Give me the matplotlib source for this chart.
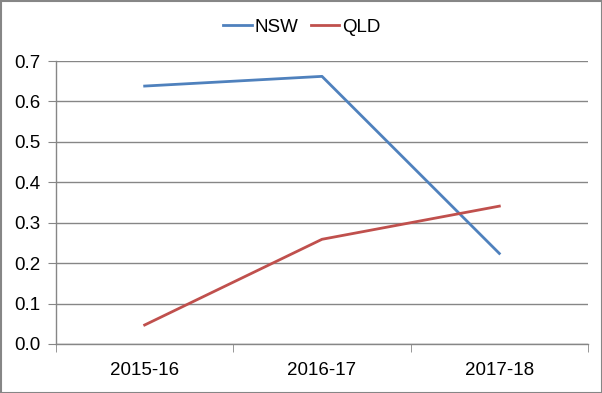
import numpy as np
import matplotlib.pyplot as plt
from matplotlib.patches import Rectangle

years = ["2015-16", "2016-17", "2017-18"]
nsw = [0.638, 0.662, 0.224]
qld = [0.047, 0.259, 0.341]

plt.rcParams['font.family'] = ['Liberation Sans', 'DejaVu Sans']

fig = plt.figure(figsize=(6.02, 3.93), dpi=100)
ax = fig.add_axes([56/602, 1-344/393, 532/602, 283/393])

x = np.arange(len(years))
ax.plot(x, nsw, color='#4F81BD', lw=2.0, label='NSW')
ax.plot(x, qld, color='#C0504D', lw=2.0, label='QLD')

ax.set_xlim(-0.5, 2.5)
ax.set_ylim(0, 0.7)
ax.set_yticks(np.arange(0, 0.71, 0.1))
ax.set_yticklabels(['%.1f' % v for v in np.arange(0, 0.71, 0.1)])
ax.set_xticks(x)
ax.set_xticklabels(years)
ax.set_xticks([-0.5, 0.5, 1.5, 2.5], minor=True)

grid_c = '#868686'
ax.grid(axis='y', color=grid_c, lw=1.0)
ax.set_axisbelow(True)
for s in ['top', 'right']:
    ax.spines[s].set_visible(False)
for s in ['left', 'bottom']:
    ax.spines[s].set_color(grid_c)
    ax.spines[s].set_linewidth(1.0)

fs = 13.5
ax.tick_params(axis='y', length=6, color=grid_c, labelsize=fs, pad=5)
ax.tick_params(axis='x', which='major', length=0, labelsize=fs, pad=13)
ax.tick_params(axis='x', which='minor', length=6, color=grid_c)

ax.legend(loc='center', bbox_to_anchor=(302/602, 1-27/393), bbox_transform=fig.transFigure,
          ncol=2, frameon=False, fontsize=fs, handlelength=1.5, handletextpad=0.15,
          columnspacing=0.7)

fig.patches.append(Rectangle((0.5/602, 0.5/393), 1-1/602, 1-1/393, transform=fig.transFigure,
                             fill=False, edgecolor='#868686', lw=1.5))

fig.savefig('out.png', dpi=100)
